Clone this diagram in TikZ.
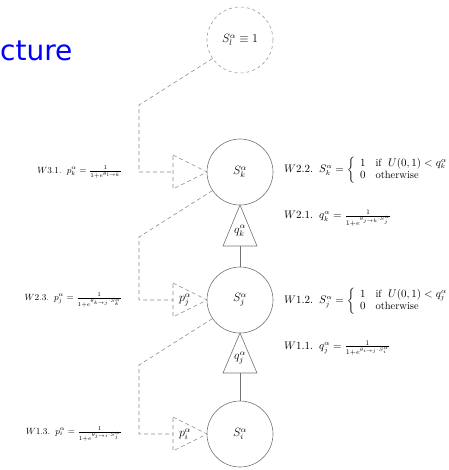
\documentclass[tikz,border=0pt]{standalone}
\usepackage{amsmath}
\usepackage{fontspec}
\newfontfamily\titlefont{DejaVu Sans}
\begin{document}
\begin{tikzpicture}[x=1pt,y=-1pt,
  unit/.style={circle,draw=black!55,line width=0.6pt,minimum size=66pt,inner sep=0pt,font=\large},
  ghost/.style={unit,dashed,draw=black!40},
  link/.style={draw=black!45,dashed,line width=0.6pt,dash pattern=on 4pt off 3pt},
  solidlink/.style={draw=black!55,line width=0.6pt},
  gatelabel/.style={inner sep=0pt,font=\large},
  eqnleft/.style={inner sep=0pt,font=\small,anchor=east},
  eqnright/.style={inner sep=0pt,font=\fontsize{10.5}{12.6}\selectfont,anchor=west}]
\useasboundingbox (0,0) rectangle (448,470);

% clipped slide title
\node[anchor=base west,inner sep=0pt,text=blue,font=\titlefont\fontsize{28}{32}\selectfont] (title) at (0,61) {cture};

% units
\node[ghost] (sl) at (240,40) {$S_l^{\alpha}\equiv 1$};
\node[unit] (sk) at (240,172) {$S_k^{\alpha}$};
\node[unit] (sj) at (240,300) {$S_j^{\alpha}$};
\node[unit] (si) at (240,434) {$S_i^{\alpha}$};

% upward gates q (solid triangles)
\draw[solidlink] (240,205) -- (257,246) -- (223,246) -- cycle;
\coordinate (qkbase) at (240,246);
\node[gatelabel] (qk) at (240,231) {$q_k^{\alpha}$};
\draw[solidlink] (240,333) -- (257,373) -- (223,373) -- cycle;
\coordinate (qjbase) at (240,373);
\node[gatelabel] (qj) at (240,358) {$q_j^{\alpha}$};
\draw[solidlink] (qkbase) -- (sj.north);
\draw[solidlink] (qjbase) -- (si.north);

% downward gates p (dashed triangles)
\draw[link] (173,155) -- (207,172) -- (173,189) -- cycle;
\coordinate (pkbase) at (173,172);
\draw[link] (173,283) -- (207,300) -- (173,317) -- cycle;
\coordinate (pjbase) at (173,300);
\node[gatelabel] (pj) at (185,300) {$p_j^{\alpha}$};
\draw[link] (173,417) -- (207,434) -- (173,451) -- cycle;
\coordinate (pibase) at (173,434);
\node[gatelabel] (pi) at (185,434) {$p_i^{\alpha}$};

% top-down connections
\coordinate (b1) at (139,105);
\coordinate (b2) at (139,237);
\coordinate (b3) at (139,365);
\draw[link] (sl.214) -- (b1) |- (pkbase);
\draw[link] (sk.214) -- (b2) |- (pjbase);
\draw[link] (sj.214) -- (b3) |- (pibase);

% update rules, left column
\node[eqnleft] (w31) at (122,172) {$W3.1.\;\; p_k^{\alpha}=\frac{1}{1+e^{\theta_{l\to k}}}$};
\node[eqnleft] (w23) at (122,300) {$W2.3.\;\; p_j^{\alpha}=\frac{1}{1+e^{\theta_{k\to j}\cdot S_k^{\alpha}}}$};
\node[eqnleft] (w13) at (122,434) {$W1.3.\;\; p_i^{\alpha}=\frac{1}{1+e^{\theta_{j\to i}\cdot S_j^{\alpha}}}$};

% update rules, right column
\node[eqnright] (w22) at (284,170) {$W2.2.\;\; S_k^{\alpha}=\left\{\begin{array}{ll}1 & \text{if }\; U(0,1)<q_k^{\alpha}\\ 0 & \text{otherwise}\end{array}\right.$};
\node[eqnright] (w21) at (284,218) {$W2.1.\;\; q_k^{\alpha}=\frac{1}{1+e^{\theta_{j\to k}\cdot S_j^{\alpha}}}$};
\node[eqnright] (w12) at (284,301) {$W1.2.\;\; S_j^{\alpha}=\left\{\begin{array}{ll}1 & \text{if }\; U(0,1)<q_j^{\alpha}\\ 0 & \text{otherwise}\end{array}\right.$};
\node[eqnright] (w11) at (284,348) {$W1.1.\;\; q_j^{\alpha}=\frac{1}{1+e^{\theta_{i\to j}\cdot S_i^{\alpha}}}$};
\end{tikzpicture}
\end{document}
